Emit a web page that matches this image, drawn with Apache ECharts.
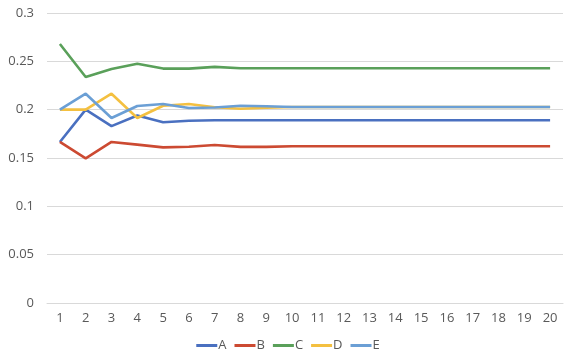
<!DOCTYPE html>
<html><head><meta charset="utf-8">
<script src="https://cdn.jsdelivr.net/npm/echarts@6/dist/echarts.min.js"></script>
<style>html,body{margin:0;padding:0;background:#fff}#c{width:576px;height:364px}</style>
</head><body><div id="c"></div>
<script>
const categories = ['1','2','3','4','5','6','7','8','9','10','11','12','13','14','15','16','17','18','19','20'];
const seriesNames = ['A','B','C','D','E'];
const A = [0.1666,0.2,0.183,0.194,0.187,0.1885,0.189,0.189,0.189,0.189,0.189,0.189,0.189,0.189,0.189,0.189,0.189,0.189,0.189,0.189];
const B = [0.1666,0.1496,0.1666,0.1638,0.161,0.1617,0.1635,0.1615,0.1615,0.1622,0.1622,0.1622,0.1622,0.1622,0.1622,0.1622,0.1622,0.1622,0.1622,0.1622];
const C = [0.268,0.2338,0.242,0.2476,0.2425,0.2425,0.2443,0.2428,0.2428,0.2428,0.2428,0.2428,0.2428,0.2428,0.2428,0.2428,0.2428,0.2428,0.2428,0.2428];
const D = [0.2,0.2,0.2165,0.1914,0.204,0.2058,0.2025,0.201,0.202,0.2028,0.2028,0.2028,0.2028,0.2028,0.2028,0.2028,0.2028,0.2028,0.2028,0.2028];
const E = [0.2,0.2165,0.1914,0.2038,0.2059,0.2017,0.2022,0.204,0.2035,0.2028,0.2028,0.2028,0.2028,0.2028,0.2028,0.2028,0.2028,0.2028,0.2028,0.2028];
const yTicks = [0, 0.05, 0.1, 0.15, 0.2, 0.25, 0.3];
const colors = ['#4a70c0','#cc4a32','#5aa05a','#f4c040','#6b9fd5'];
const values = [A,B,C,D,E];

const chart = echarts.init(document.getElementById('c'), null, {renderer:'canvas'});
const font = '"Open Sans", "Noto Sans", sans-serif';
chart.setOption({
  animation:false,
  color: colors,
  textStyle:{fontFamily:font},
  grid:{left:47,right:13,top:13,bottom:61},
  legend:{
    bottom:7,left:'center',icon:'rect',itemWidth:21,itemHeight:3,itemGap:8,
    textStyle:{color:'#595959',fontSize:13,fontFamily:font,padding:[0,0,0,-4]},
    data: seriesNames
  },
  xAxis:{
    type:'category',data:categories,boundaryGap:true,
    axisLine:{show:true,lineStyle:{color:'#d9d9d9'}},axisTick:{show:false},
    axisLabel:{color:'#595959',fontSize:13,margin:9,fontFamily:font}
  },
  yAxis:{
    type:'value',min:yTicks[0],max:yTicks[yTicks.length-1],interval:0.05,
    axisLine:{show:false},axisTick:{show:false},
    splitLine:{lineStyle:{color:'#d9d9d9'}},
    axisLabel:{color:'#595959',fontSize:13,margin:13,fontFamily:font,
      formatter:v=>String(Math.round(v*100)/100)}
  },
  series: seriesNames.map((n,i)=>({
    name:n,type:'line',data:values[i],symbol:'none',
    lineStyle:{width:2.6,color:colors[i]},itemStyle:{color:colors[i]}
  }))
});
</script></body></html>
